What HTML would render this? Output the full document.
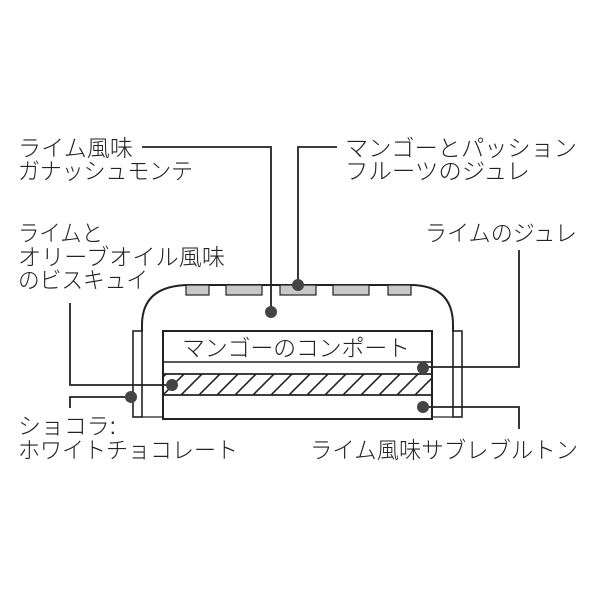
<!DOCTYPE html>
<html><head><meta charset="utf-8"><style>
html,body{margin:0;padding:0;background:#fff;}
svg text{font-family:"Liberation Sans","Noto Sans CJK JP",sans-serif;font-size:23px;fill:#222;font-weight:300;}
</style></head><body>
<svg width="600" height="600" viewBox="0 0 600 600" xmlns="http://www.w3.org/2000/svg">
<defs>
<pattern id="h" width="18" height="21" patternUnits="userSpaceOnUse" patternTransform="translate(163,374)">
<path d="M-18 21 L3 0 M0 21 L21 0" stroke="#222" stroke-width="1.6" fill="none"/>
</pattern>
</defs>
<path d="M142 332 L142 325 Q142 285 190 285 L410 285 Q453 285 453 325 L453 332" fill="none" stroke="#222" stroke-width="2"/>
<g fill="#c8c8c8" stroke="#222" stroke-width="1.2">
<rect x="186" y="285" width="23" height="10"/>
<rect x="226" y="285" width="36" height="10"/>
<rect x="280" y="285" width="36" height="10"/>
<rect x="333" y="285" width="36" height="10"/>
<rect x="388" y="285" width="23" height="10"/>
</g>
<rect x="133" y="331" width="9" height="86" fill="#fff" stroke="#222" stroke-width="1.6"/>
<rect x="453" y="331" width="9" height="86" fill="#fff" stroke="#222" stroke-width="1.6"/>
<line x1="142" y1="417" x2="163" y2="417" stroke="#222" stroke-width="1.2"/>
<line x1="432" y1="417" x2="453" y2="417" stroke="#222" stroke-width="1.2"/>
<rect x="163" y="331" width="269" height="88" fill="#fff" stroke="#222" stroke-width="2"/>
<rect x="163" y="374" width="269" height="21" fill="url(#h)"/>
<line x1="163" y1="362" x2="432" y2="362" stroke="#222" stroke-width="1.6"/>
<line x1="163" y1="374" x2="432" y2="374" stroke="#222" stroke-width="1.8"/>
<line x1="163" y1="395" x2="432" y2="395" stroke="#222" stroke-width="1.8"/>
<text x="182" y="356" textLength="228" lengthAdjust="spacing">マンゴーのコンポート</text>
<g fill="none" stroke="#222" stroke-width="1.8">
<polyline points="142,147 271,147 271,312"/>
<polyline points="337,147 298,147 298,285"/>
<polyline points="70,303 70,385 172,385"/>
<polyline points="131,397 70,397 70,408"/>
<polyline points="519,250 519,367 423,367"/>
<polyline points="423,407 519,407 519,429"/>
</g>
<g fill="#444">
<circle cx="298" cy="285" r="6"/>
<circle cx="271" cy="312" r="6"/>
<circle cx="423" cy="368" r="6"/>
<circle cx="172" cy="385" r="6"/>
<circle cx="131" cy="397" r="6"/>
<circle cx="423" cy="407" r="6"/>
</g>
<text x="18" y="156" textLength="115" lengthAdjust="spacingAndGlyphs">ライム風味</text>
<text x="18" y="179" textLength="175" lengthAdjust="spacingAndGlyphs">ガナッシュモンテ</text>
<text x="345" y="156" textLength="232" lengthAdjust="spacingAndGlyphs">マンゴーとパッション</text>
<text x="345" y="179" textLength="185" lengthAdjust="spacingAndGlyphs">フルーツのジュレ</text>
<text x="18" y="241" textLength="85" lengthAdjust="spacingAndGlyphs">ライムと</text>
<text x="18" y="265" textLength="207" lengthAdjust="spacingAndGlyphs">オリーブオイル風味</text>
<text x="18" y="288" textLength="130" lengthAdjust="spacingAndGlyphs">のビスキュイ</text>
<text x="425" y="241" textLength="152" lengthAdjust="spacingAndGlyphs">ライムのジュレ</text>
<text x="18" y="434" textLength="98" lengthAdjust="spacingAndGlyphs">ショコラ:</text>
<text x="18" y="458" textLength="220" lengthAdjust="spacingAndGlyphs">ホワイトチョコレート</text>
<text x="310" y="458" textLength="268" lengthAdjust="spacingAndGlyphs">ライム風味サブレブルトン</text>
</svg>
</body></html>
